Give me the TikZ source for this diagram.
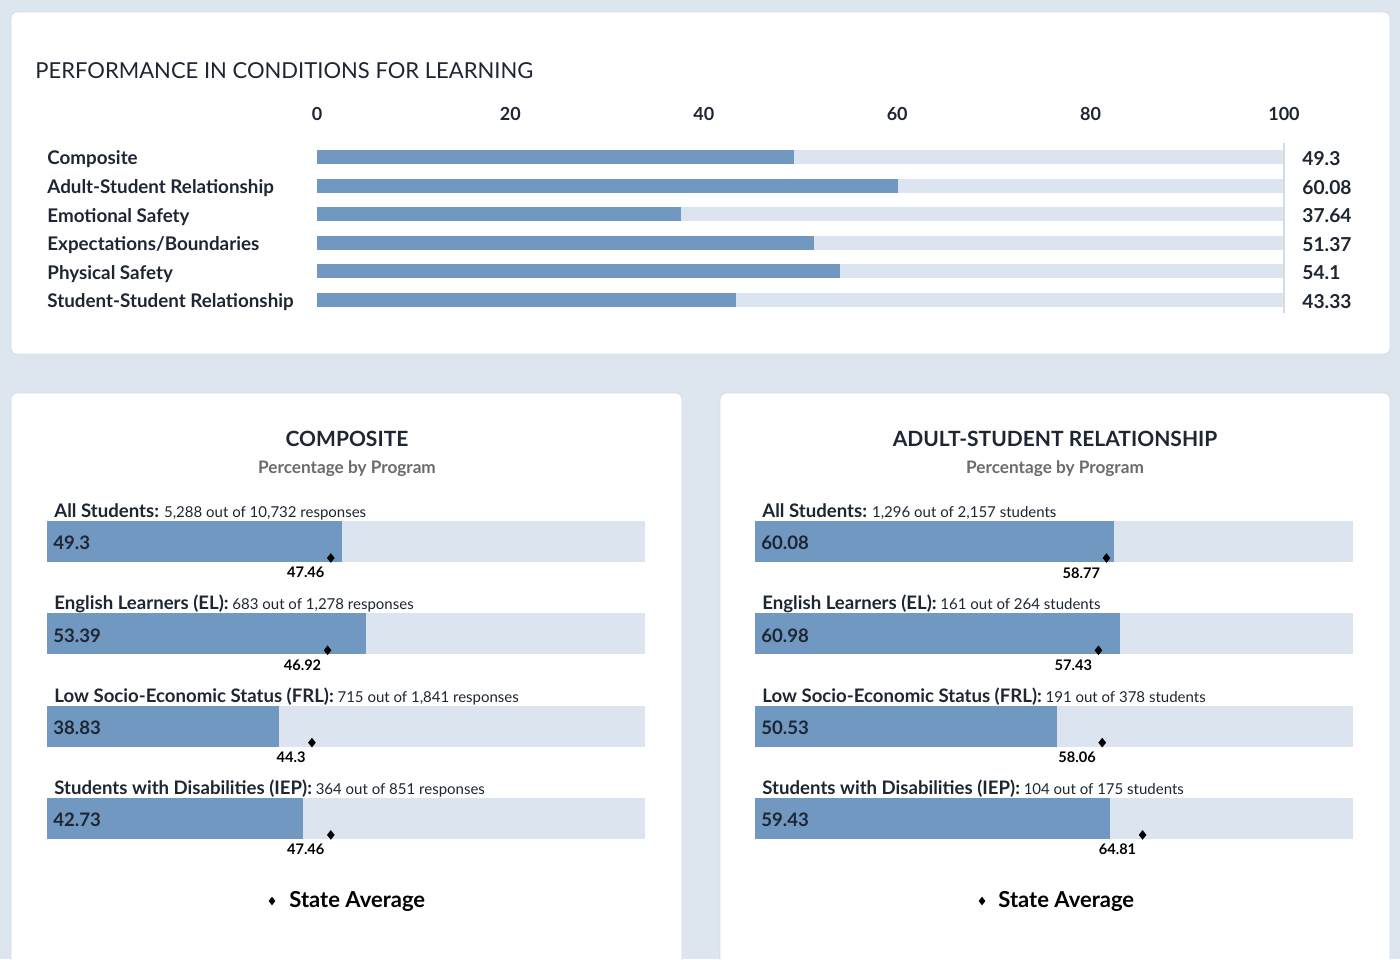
\documentclass[tikz,border=0pt]{standalone}
\usepackage{fontspec}
\setmainfont{Lato}
\usetikzlibrary{shapes.geometric}

\definecolor{pagebg}{HTML}{DDE6EF}
\definecolor{barfill}{HTML}{7098C0}
\definecolor{bartrack}{HTML}{DCE5EF}
\definecolor{inktext}{HTML}{1F2633}
\definecolor{subgray}{HTML}{6B6B6B}
\definecolor{panelline}{HTML}{D3DCE6}

\tikzset{
  panel/.style={fill=white, draw=panelline, rounded corners=3pt},
  track/.style={fill=bartrack},
  bar/.style={fill=barfill},
  rowlabel/.style={anchor=west, inner sep=0pt, text=inktext, font=\fontsize{9.4}{11}\selectfont\bfseries},
  rowvalue/.style={anchor=west, inner sep=0pt, text=inktext, font=\fontsize{9.6}{11}\selectfont\bfseries},
  ticklabel/.style={inner sep=0pt, text=inktext, font=\fontsize{9}{11}\selectfont\bfseries},
  grouplabel/.style={anchor=west, inner sep=0pt, text=inktext, font=\fontsize{7.5}{9}\selectfont},
  inbar/.style={anchor=west, inner sep=0pt, text=inktext, font=\fontsize{9.3}{11}\selectfont\bfseries},
  avgmark/.style={diamond, fill=black, inner sep=0pt, minimum width=4pt, minimum height=5pt},
  avglabel/.style={anchor=north east, inner sep=0pt, text=black, font=\fontsize{7.3}{9}\selectfont\bfseries},
  paneltitle/.style={inner sep=0pt, text=inktext, font=\fontsize{10.5}{12}\selectfont\bfseries},
  subtitle/.style={inner sep=0pt, text=subgray, font=\fontsize{8.6}{10}\selectfont\bfseries},
  legendtext/.style={anchor=west, inner sep=0pt, text=black, font=\fontsize{11}{13}\selectfont\bfseries}
}

\begin{document}
\begin{tikzpicture}[x=0.5pt,y=-0.5pt]

    % page and panels
    \fill[pagebg] (0,0) rectangle (1400,959);
    \useasboundingbox (0,0) rectangle (1400,959);
    \draw[panel] (11,12) rectangle (1390,354);
    \draw[panel] (11,393) rectangle (682,975);
    \draw[panel] (720,393) rectangle (1390,975);

    %%%%%%%%%%%%%%%%%%%%%%%%%%%%%%%%%%%%%%%%%%%%%%%%%%%%%%%%%

    % overview chart
    \node[anchor=west, inner sep=0pt, text=inktext, font=\fontsize{11}{13}\selectfont] (maintitle) at (35,71) {PERFORMANCE IN CONDITIONS FOR LEARNING};
    \foreach \t [count=\k] in {0,20,40,60,80,100}
      \node[ticklabel] (tick\k) at ({317+9.67*\t},114) {\t};
    \foreach \lab/\val [count=\i] in {Composite/49.3, Adult-Student Relationship/60.08, Emotional Safety/37.64,
        {Expectations/Boundaries}/51.37, Physical Safety/54.1, Student-Student Relationship/43.33}{
      \pgfmathsetmacro{\ry}{157+(\i-1)*28.6}
      \fill[track] (317,\ry-7) rectangle (1284,\ry+7);
      \fill[bar] (317,\ry-7) rectangle ({317+9.67*\val},\ry+7);
      \node[rowlabel] (row\i) at (47,\ry+2.5) {\lab};
      \node[rowvalue] (val\i) at (1302,\ry+1.5) {\val};
    }
    \draw[panelline, line width=0.6pt] (1284,143) -- (1284,313);

    %%%%%%%%%%%%%%%%%%%%%%%%%%%%%%%%%%%%%%%%%%%%%%%%%%%%%%%%%

    % composite by program
    \node[paneltitle] (ctitle) at (347,439) {COMPOSITE};
    \node[subtitle] (csub) at (347,469) {Percentage by Program};
    \foreach \grp/\cnt/\val/\avg [count=\i] in {
        {All Students:}/{5,288 out of 10,732 responses}/49.3/47.46,
        {English Learners (EL):}/{683 out of 1,278 responses}/53.39/46.92,
        {Low Socio-Economic Status (FRL):}/{715 out of 1,841 responses}/38.83/44.3,
        {Students with Disabilities (IEP):}/{364 out of 851 responses}/42.73/47.46}{
      \pgfmathsetmacro{\ly}{511+(\i-1)*92.3}
      \fill[track] (47,\ly+10) rectangle (645,\ly+51);
      \fill[bar] (47,\ly+10) rectangle ({47+5.98*\val},\ly+51);
      \node[grouplabel] (cg\i) at (54,\ly+1) {{\fontsize{9.3}{11}\selectfont\bfseries\grp} \cnt};
      \node[inbar] (cv\i) at (53,\ly+32) {\val};
      \node[avgmark] (cm\i) at ({47+5.98*\avg},\ly+47) {};
      \node[avglabel] (ca\i) at ([xshift=-3pt,yshift=-4.5pt]cm\i.center) {\avg};
    }
    \node[avgmark, minimum width=3.5pt, minimum height=4.5pt] (ckey) at (272,901) {};
    \node[legendtext] (ckeytext) at (289,901) {State Average};

    % adult-student relationship by program
    \node[paneltitle] (atitle) at (1055,439) {ADULT-STUDENT RELATIONSHIP};
    \node[subtitle] (asub) at (1055,469) {Percentage by Program};
    \foreach \grp/\cnt/\val/\avg [count=\i] in {
        {All Students:}/{1,296 out of 2,157 students}/60.08/58.77,
        {English Learners (EL):}/{161 out of 264 students}/60.98/57.43,
        {Low Socio-Economic Status (FRL):}/{191 out of 378 students}/50.53/58.06,
        {Students with Disabilities (IEP):}/{104 out of 175 students}/59.43/64.81}{
      \pgfmathsetmacro{\ly}{511+(\i-1)*92.3}
      \fill[track] (755,\ly+10) rectangle (1353,\ly+51);
      \fill[bar] (755,\ly+10) rectangle ({755+5.98*\val},\ly+51);
      \node[grouplabel] (ag\i) at (762,\ly+1) {{\fontsize{9.3}{11}\selectfont\bfseries\grp} \cnt};
      \node[inbar] (av\i) at (761,\ly+32) {\val};
      \node[avgmark] (am\i) at ({755+5.98*\avg},\ly+47) {};
      \node[avglabel] (aa\i) at ([xshift=-3pt,yshift=-4.5pt]am\i.center) {\avg};
    }
    \node[avgmark, minimum width=3.5pt, minimum height=4.5pt] (akey) at (982,901) {};
    \node[legendtext] (akeytext) at (998,901) {State Average};

\end{tikzpicture}
\end{document}
